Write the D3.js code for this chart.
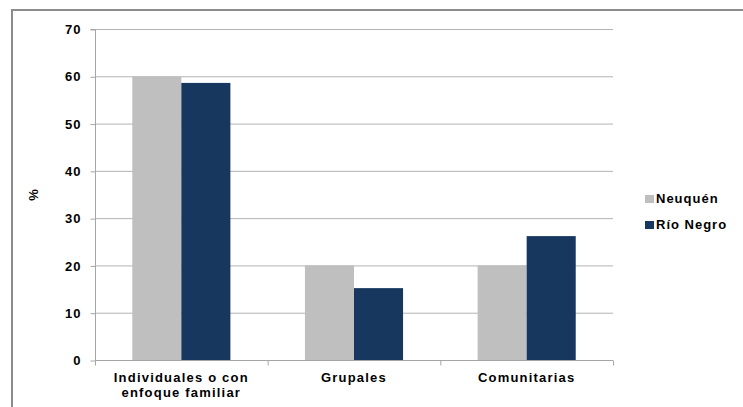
<!DOCTYPE html>
<html>
<head>
<meta charset="utf-8">
<script src="https://cdn.jsdelivr.net/npm/d3@7"></script>
<style>
  html, body { margin: 0; padding: 0; background: #fff; }
  svg { display: block; font-family: "Liberation Sans", Arial, sans-serif; }
</style>
</head>
<body>
<svg id="chart" width="743" height="407"></svg>
<script>
// Categories and series (percentages)
const categories = ["Individuales o con enfoque familiar", "Grupales", "Comunitarias"];
const categoryLines = [["Individuales o con", "enfoque familiar"], ["Grupales"], ["Comunitarias"]];
const seriesNames = ["Neuquén", "Río Negro"];
const neuquen = [60, 20, 20];
const rioNegro = [58.6, 15.2, 26.2];
const yTicks = [0, 10, 20, 30, 40, 50, 60, 70];
const colors = ["#BFBFBF", "#17375E"];

const svg = d3.select("#chart");
const margin = { left: 95, right: 130, top: 29, bottom: 47 };
const W = 743, H = 407;
const x0 = margin.left, x1 = W - margin.right;
const y0 = H - margin.bottom, y1 = margin.top;
const FONT = 13;

// Outer frame
svg.append("rect")
  .attr("x", 12).attr("y", 10)
  .attr("width", 740).attr("height", 410)
  .attr("fill", "none").attr("stroke", "#8c8c8c").attr("stroke-width", 2);

const x = d3.scaleBand().domain(categories).range([x0, x1]).paddingInner(0).paddingOuter(0);
const y = d3.scaleLinear().domain([0, 70]).range([y0, y1]);
const xs = d3.scaleBand().domain(seriesNames).range([0, x.bandwidth()]).paddingInner(0).paddingOuter(0.76);

// Horizontal gridlines
svg.append("g").selectAll("line").data(yTicks.filter(d => d > 0)).join("line")
  .attr("x1", x0).attr("x2", x1)
  .attr("y1", d => y(d) + 0.5).attr("y2", d => y(d) + 0.5)
  .attr("stroke", "#b3b3b3").attr("stroke-width", 1);

// Bars
const data = categories.map((c, i) => ({ c, vals: [neuquen[i], rioNegro[i]] }));
svg.append("g").selectAll("g").data(data).join("g")
  .attr("transform", d => `translate(${x(d.c)},0)`)
  .selectAll("rect").data(d => d.vals.map((v, j) => ({ v, s: seriesNames[j], j })))
  .join("rect")
  .attr("x", d => xs(d.s))
  .attr("y", d => y(d.v))
  .attr("width", xs.bandwidth())
  .attr("height", d => y0 - y(d.v))
  .attr("fill", d => colors[d.j]);

// Y axis
const yAxis = d3.axisLeft(y).tickValues(yTicks).tickSize(5).tickPadding(9).tickFormat(d3.format("d"));
const gy = svg.append("g").attr("transform", `translate(${x0 + 0.5},0.5)`).call(yAxis);
gy.select(".domain").attr("stroke", "#a6a6a6").attr("d", `M-5,${y1}H0V${y0}`);
gy.selectAll(".tick line").attr("stroke", "#a6a6a6");
gy.selectAll(".tick text").attr("font-size", FONT).attr("font-weight", "bold").attr("fill", "#000")
  .attr("letter-spacing", 1)
  .attr("font-family", "Liberation Sans, Arial, sans-serif");

// X axis
const xAxis = d3.axisBottom(x).tickSize(0).tickFormat("");
const gx = svg.append("g").attr("transform", `translate(0,${y0 + 0.5})`).call(xAxis);
gx.select(".domain").attr("stroke", "#a6a6a6").attr("d", `M${x0},0H${x1}`);
// Category separator ticks
const boundaries = categories.map(c => x(c)).concat([x1]);
gx.selectAll("line.sep").data(boundaries).join("line").attr("class", "sep")
  .attr("x1", d => d + 0.5).attr("x2", d => d + 0.5).attr("y1", 0).attr("y2", 5)
  .attr("stroke", "#a6a6a6");

// Category labels
const labels = svg.append("g");
categories.forEach((c, i) => {
  const cx = x(c) + x.bandwidth() / 2;
  const t = labels.append("text")
    .attr("x", cx).attr("y", 382)
    .attr("text-anchor", "middle").attr("font-size", FONT).attr("font-weight", "bold")
    .attr("letter-spacing", 1.2).attr("fill", "#000");
  categoryLines[i].forEach((ln, k) => {
    t.append("tspan").attr("x", cx).attr("dy", k === 0 ? 0 : 15).text(ln);
  });
});

// Y axis title
svg.append("text")
  .attr("transform", "translate(38,195) rotate(-90)")
  .attr("text-anchor", "middle").attr("font-size", FONT).attr("font-weight", "bold")
  .attr("fill", "#000").text("%");

// Legend
const legend = svg.append("g").attr("transform", "translate(645,203)");
seriesNames.forEach((s, i) => {
  const g = legend.append("g").attr("transform", `translate(0,${i * 26})`);
  g.append("rect").attr("x", 0).attr("y", -8).attr("width", 9).attr("height", 8).attr("fill", colors[i]);
  g.append("text").attr("x", 11).attr("y", 0).attr("font-size", FONT).attr("font-weight", "bold")
    .attr("letter-spacing", 1).attr("fill", "#000").text(s);
});
</script>
</body>
</html>
